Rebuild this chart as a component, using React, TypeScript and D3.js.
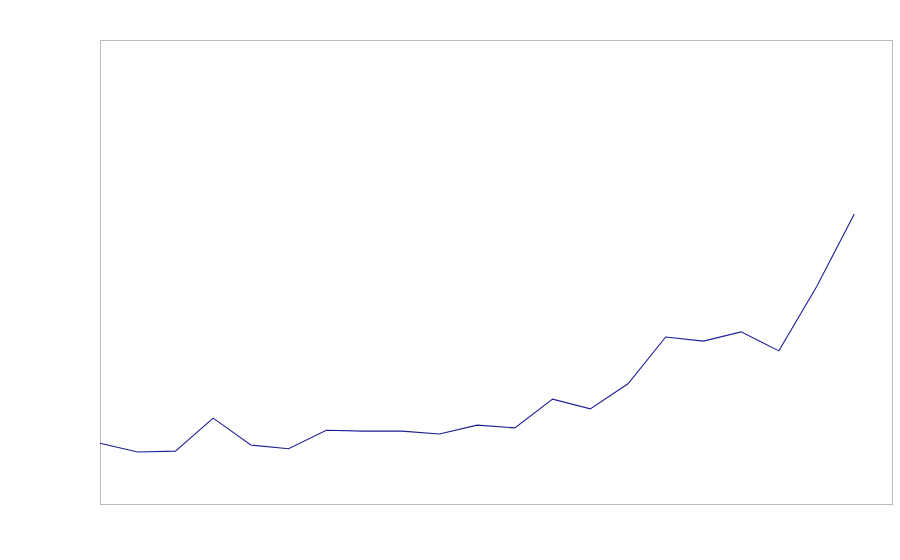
import React from "react";
import * as d3 from "d3";

const indices: number[] = d3.range(0, 21);
const values: number[] = [
  13.1, 11.2, 11.4, 18.5, 12.7, 11.9, 15.9, 15.7, 15.7, 15.1, 17.0,
  16.4, 22.6, 20.5, 25.9, 36.0, 35.1, 37.1, 33.0, 46.8, 62.5,
];
const xDomain: [number, number] = [0, 21];
const yDomain: [number, number] = [0, 100];

const W = 900;
const H = 560;
const margin = { left: 100, right: 8, top: 40, bottom: 56 };

export default function App() {
  const x = d3.scaleLinear().domain(xDomain).range([margin.left, W - margin.right]);
  const y = d3.scaleLinear().domain(yDomain).range([H - margin.bottom, margin.top]);
  const line = d3
    .line<number>()
    .x((_, i) => x(indices[i]))
    .y((d) => y(d));
  return (
    <svg
      width={W}
      height={H}
      style={{ position: "absolute", left: 0, top: 0, background: "#fff" }}
    >
      <rect
        x={margin.left + 0.5}
        y={margin.top + 0.5}
        width={W - margin.left - margin.right}
        height={H - margin.top - margin.bottom}
        fill="none"
        stroke="#bbbbbb"
        strokeWidth={1}
      />
      <path d={line(values) || ""} fill="none" stroke="#1c1c96" strokeWidth={1.1} />
    </svg>
  );
}
